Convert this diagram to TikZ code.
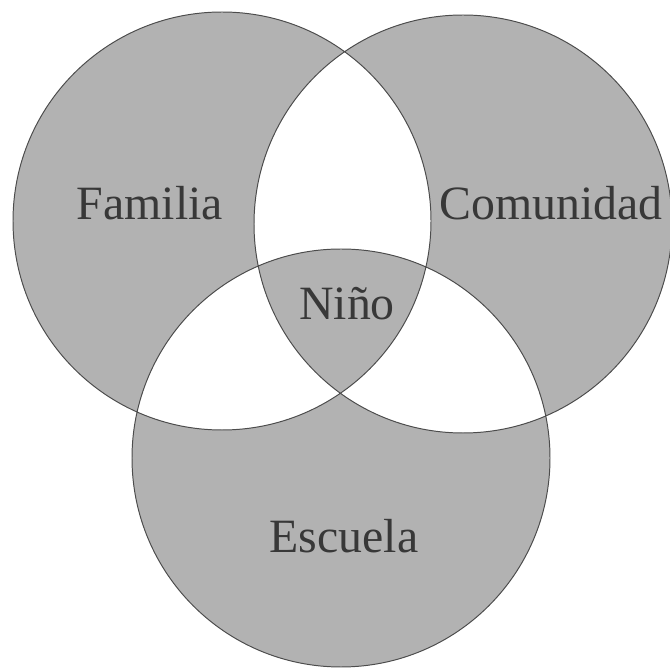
\documentclass[tikz,border=0pt]{standalone}
\usepackage{fontspec}
\setmainfont{Liberation Serif}
\usepackage{tikz}

\tikzset{
  area/.style={draw=black!70, line width=0.7pt, fill=black!30, even odd rule},
  label/.style={anchor=base, text=black!78, font=\fontsize{34}{40}\selectfont}
}

\begin{document}
\begin{tikzpicture}[x=0.025cm, y=0.025cm]
    \useasboundingbox (0,0) rectangle (670,671);

    % Three circles (overlaps cleared by even odd rule)
    \path[area] (222,450) circle (209)
                (463,447) circle (209)
                (341,213) circle (209);

    % Labels
    \node[label] (familia) at (150,451) {Familia};
    \node[label] (comunidad) at (551,451) {Comunidad};
    \node[label] (nino) at (347,351) {Niño};
    \node[label] (escuela) at (344,118) {Escuela};
\end{tikzpicture}
\end{document}
